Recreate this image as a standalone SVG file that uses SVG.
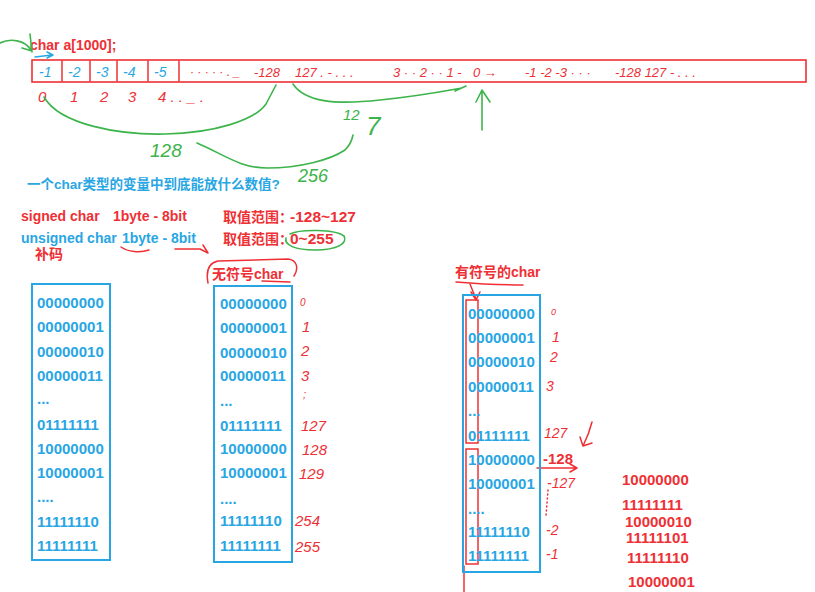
<svg xmlns="http://www.w3.org/2000/svg" width="815" height="592" viewBox="0 0 815 592">
<style>
.b{font-family:"Liberation Sans","Noto Sans CJK SC",sans-serif;font-weight:bold}
.red{fill:#ee3035}
.blue{fill:#28a6e4}
.hand{font-family:"Liberation Sans",sans-serif;font-style:italic}
.hr{fill:#ee3035}
.hg{fill:#3cb44b}
.hb{fill:#28a6e4}
.sr{fill:none;stroke:#ee3035;stroke-width:1.5;stroke-linecap:round;stroke-linejoin:round}
.sg{fill:none;stroke:#3cb44b;stroke-width:1.6;stroke-linecap:round;stroke-linejoin:round}
.sb{fill:none;stroke:#28a6e4;stroke-width:1.5;stroke-linecap:round;stroke-linejoin:round}
.box{fill:none;stroke:#28a6e4;stroke-width:2}
.d{font-size:15px}
</style>
<rect width="815" height="592" fill="#ffffff"/>

<g id="array">
  <text class="b red" x="30" y="50" font-size="14">char a[1000];</text>
  <rect x="32" y="60" width="774" height="22" fill="none" stroke="#ee3035" stroke-width="1.6"/>
  <path class="sr" d="M62,61 L62,81 M90,61 L90,81 M117,61 L117,81 M148,61 L148,81 M179,61 L179,81"/>
  <g class="hand hb" font-size="14">
    <text x="39" y="77">-1</text>
    <text x="68" y="77">-2</text>
    <text x="96" y="77">-3</text>
    <text x="123" y="77">-4</text>
    <text x="154" y="77">-5</text>
  </g>
  <g class="hand hr" font-size="13">
    <text x="190" y="76" font-size="12">· · · · · . _</text>
    <text x="254" y="77">-128</text>
    <text x="295" y="77">127 . - . . .</text>
    <text x="393" y="77">3 · · 2 · · 1 -</text>
    <text x="473" y="77">0 →</text>
    <text x="525" y="77">-1 -2 -3 · · ·</text>
    <text x="615" y="77">-128 127 - . . .</text>
  </g>
  <g class="hand hr" font-size="15">
    <text x="38" y="102">0</text>
    <text x="70" y="102">1</text>
    <text x="100" y="102">2</text>
    <text x="128" y="102">3</text>
    <text x="158" y="102">4 . . _ .</text>
  </g>
</g>

<g id="connectors">
  <path class="sg" d="M0,43 C10,38 25,40 31,50 M30,34 L32,52 M22,48 L32,51"/>
  <path class="sb" d="M35,57 L52,55 M47,52 L53,55 L47,58"/>
  <path class="sg" d="M44,97 C60,125 120,135 165,134 C215,133 255,120 266,104 L276,85"/>
  <path class="sg" d="M293,84 C305,102 335,105 380,100 C420,96 445,91 462,88 M455,91 L466,86"/>
  <path class="sg" d="M197,143 C225,155 240,168 267,168 C300,168 330,160 345,150 C350,145 352,140 353,135"/>
  <path class="sg" d="M482,130 L482,91 M476,102 L482,90 L490,102"/>
  <path class="sr" d="M121,247 C128,252 140,253 149,250"/>
  <path class="sr" d="M175,249 L200,249 L208,253 M203,245 L208,253"/>
  <path class="sg" d="M290,234 C300,229 335,229 344,236 C348,243 338,250 315,250 C295,250 284,245 286,238"/>
  <path class="sr" d="M208,283 C206,272 208,263 218,261 L288,259 C297,260 299,268 294,276 M262,281 L290,282"/>
  <path class="sr" d="M456,282 C480,284 505,285 523,285"/>
  <path class="sr" d="M470,284 L476,299 M471,292 L476,300 L480,292"/>
  <path class="sr" d="M592,422 C590,430 587,438 583,446 M580,437 L583,446 L592,443"/>
  <path class="sr" d="M537,468 L576,468 M570,464 L577,468 L570,472"/>
  <path class="sr" d="M548,490 L546,516" stroke-dasharray="1 3"/>
  <path class="sr" d="M464,566 L464,592"/>
</g>

<g id="annotations" class="hand hg">
  <text x="343" y="120" font-size="15">12<tspan x="366" font-size="26" dy="15">7</tspan></text>
  <text x="150" y="157" font-size="19">128</text>
  <text x="298" y="182" font-size="18">256</text>
</g>

<g id="texts">
  <text class="b blue" x="27" y="189" font-size="13.5">一个char类型的变量中到底能放什么数值?</text>
  <text class="b red" y="221" font-size="14"><tspan x="21">signed char</tspan><tspan x="113">1byte - 8bit</tspan></text>
  <text class="b red" x="223" y="222" font-size="14">取值范围：<tspan x="290" font-size="15.5">-128~127</tspan></text>
  <text class="b blue" y="243" font-size="14"><tspan x="21">unsigned char</tspan><tspan x="122">1byte - 8bit</tspan></text>
  <text class="b red" x="223" y="244" font-size="14">取值范围：<tspan x="290" font-size="15.5">0~255</tspan></text>
  <text class="b red" x="35" y="259" font-size="14">补码</text>
  <text class="b red" x="212" y="279" font-size="14">无符号char</text>
  <text class="b red" x="455" y="277" font-size="14">有符号的char</text>
</g>

<g id="box-left">
  <rect class="box" x="32" y="284" width="78" height="276"/>
  <g class="b blue d">
    <text x="37" y="308">00000000</text>
    <text x="37" y="332">00000001</text>
    <text x="37" y="357">00000010</text>
    <text x="37" y="381">00000011</text>
    <text x="37" y="404">...</text>
    <text x="37" y="430">01111111</text>
    <text x="37" y="454">10000000</text>
    <text x="37" y="478">10000001</text>
    <text x="37" y="502">....</text>
    <text x="37" y="527">11111110</text>
    <text x="37" y="551">11111111</text>
  </g>
</g>

<g id="box-unsigned">
  <rect class="box" x="214" y="286" width="78" height="276"/>
  <g class="b blue d">
    <text x="220" y="309">00000000</text>
    <text x="220" y="333">00000001</text>
    <text x="220" y="358">00000010</text>
    <text x="220" y="381">00000011</text>
    <text x="220" y="406">...</text>
    <text x="220" y="431">01111111</text>
    <text x="220" y="454">10000000</text>
    <text x="220" y="478">10000001</text>
    <text x="220" y="504">....</text>
    <text x="220" y="526">11111110</text>
    <text x="220" y="551">11111111</text>
  </g>
  <g class="hand hr" font-size="15">
    <text x="300" y="306" font-size="10">0</text>
    <text x="302" y="332">1</text>
    <text x="301" y="356">2</text>
    <text x="301" y="381">3</text>
    <text x="303" y="398" font-size="11">;</text>
    <text x="301" y="431">127</text>
    <text x="302" y="455">128</text>
    <text x="299" y="479">129</text>
    <text x="295" y="526">254</text>
    <text x="295" y="552">255</text>
  </g>
</g>

<g id="box-signed">
  <rect class="box" x="463" y="295" width="77" height="277"/>
  <rect x="466" y="300" width="12" height="143" fill="none" stroke="#ee3035" stroke-width="1.5"/>
  <rect x="466" y="449" width="12" height="115" fill="none" stroke="#ee3035" stroke-width="1.5"/>
  <g class="b blue d">
    <text x="468" y="319">00000000</text>
    <text x="468" y="343">00000001</text>
    <text x="468" y="367">00000010</text>
    <text x="468" y="392">00000011</text>
    <text x="468" y="416">...</text>
    <text x="468" y="441">01111111</text>
    <text x="468" y="465">10000000</text>
    <text x="468" y="489">10000001</text>
    <text x="468" y="514">....</text>
    <text x="468" y="537">11111110</text>
    <text x="468" y="561">11111111</text>
  </g>
  <g class="hand hr" font-size="14">
    <text x="551" y="315" font-size="9">0</text>
    <text x="552" y="342">1</text>
    <text x="550" y="362">2</text>
    <text x="546" y="391">3</text>
    <text x="544" y="438">127</text>
    <text x="547" y="488">-127</text>
    <text x="546" y="535">-2</text>
    <text x="546" y="559">-1</text>
  </g>
  <text class="b red" x="543" y="464" font-size="15">-128</text>
</g>

<g id="right-values" class="b red" font-size="15">
  <text x="622" y="485">10000000</text>
  <text x="622" y="510">11111111</text>
  <text x="625" y="527">10000010</text>
  <text x="626" y="543">11111101</text>
  <text x="627" y="563">11111110</text>
  <text x="628" y="587">10000001</text>
</g>
</svg>
